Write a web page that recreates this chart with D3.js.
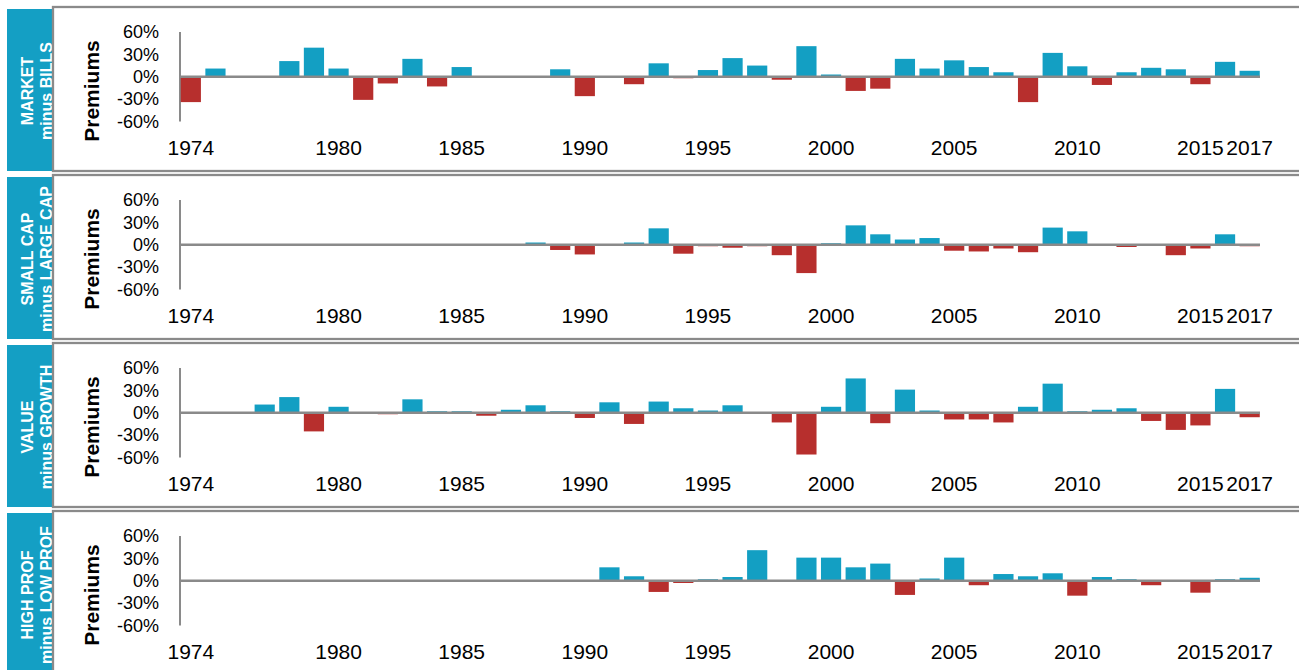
<!DOCTYPE html>
<html><head><meta charset="utf-8">
<script src="https://cdn.jsdelivr.net/npm/d3@7"></script>
<style>
html,body{margin:0;padding:0;background:#fff;overflow:hidden}
svg{display:block;font-family:"Liberation Sans",Arial,sans-serif}
</style></head>
<body><svg id="c" width="1299" height="670"></svg>
<script>
const years = d3.range(1974, 2018);
const xTickYears = [1974, 1980, 1985, 1990, 1995, 2000, 2005, 2010, 2015, 2017];
const yTicks = [60, 30, 0, -30, -60];
const panelLine1 = ["MARKET", "SMALL CAP", "VALUE", "HIGH PROF"];
const panelLine2 = ["minus BILLS", "minus LARGE CAP", "minus GROWTH", "minus LOW PROF"];
const yLabel = "Premiums";

const market = [-34,11,null,-1,21,39,11,-31,-9,24,-13,13,null,null,-1,10,-26,1,-10,18,-2,9,25,15,-4,41,3,-19,-16,24,11,22,13,6,-34,32,14,-11,6,12,10,-10,20,8];
const smallCap = [null,null,null,null,null,null,null,null,null,null,null,null,null,null,3,-7,-13,null,3,22,-12,-2,-4,-2,-14,-38,2,26,14,7,9,-8,-9,-5,-10,23,18,null,-3,null,-14,-5,14,-2];
const value = [null,null,null,11,21,-25,8,null,-2,18,2,2,-4,4,10,2,-7,14,-15,15,6,3,10,null,-13,-56,8,46,-14,31,3,-9,-9,-13,8,39,2,4,6,-11,-23,-17,32,-6];
const prof = [null,null,null,null,null,null,null,null,null,null,null,null,null,null,null,null,null,18,6,-15,-3,2,5,41,null,31,31,18,23,-19,3,31,-6,9,6,10,-20,5,2,-6,null,-16,2,4];
const seriesList = [market, smallCap, value, prof];

const svg = d3.select("#c");
const blue = "#139fc3", red = "#b72f2d", gray = "#8a8a8a", labBlue = "#149fc4";
const panelTops = [7, 175, 343, 511];
const panelH = 164;

const x = d3.scaleBand().domain(years).range([179.5, 1261]).paddingInner(0.18).paddingOuter(0.05);

seriesList.forEach((vals, i) => {
  const top = panelTops[i];
  const g = svg.append("g");
  // label box
  g.append("rect").attr("x", 7).attr("y", top + 2).attr("width", 45).attr("height", panelH - 2).attr("fill", labBlue);
  const cy = top + 84;
  g.append("text").attr("transform", `translate(33,${cy}) rotate(-90)`).attr("text-anchor", "middle")
    .attr("fill", "#fff").attr("font-weight", "bold").attr("font-size", 16).text(panelLine1[i]);
  g.append("text").attr("transform", `translate(52,${cy}) rotate(-90)`).attr("text-anchor", "middle")
    .attr("fill", "#fff").attr("font-weight", "bold").attr("font-size", 16).text(panelLine2[i]);
  // frame
  g.append("rect").attr("x", 53).attr("y", top).attr("width", 1270).attr("height", panelH)
    .attr("fill", "#fff").attr("stroke", gray).attr("stroke-width", 2.3);

  const y = d3.scaleLinear().domain([-60, 60]).range([top + 114.5, top + 25]);

  // y label
  g.append("text").attr("transform", `translate(99,${top + 84}) rotate(-90)`).attr("text-anchor", "middle")
    .attr("font-weight", "bold").attr("font-size", 21).attr("fill", "#000").text(yLabel);

  // y axis
  const yAxis = d3.axisLeft(y).tickValues(yTicks).tickSize(0).tickPadding(0).tickFormat(d => d + "%");
  const ya = g.append("g").attr("transform", "translate(159,0)").call(yAxis);
  ya.select(".domain").remove();
  ya.selectAll("text").attr("font-size", 18).attr("fill", "#000").attr("font-family", "Liberation Sans, Arial, sans-serif");
  g.append("line").attr("x1", 180).attr("x2", 180).attr("y1", y(60)).attr("y2", y(-60))
    .attr("stroke", gray).attr("stroke-width", 2);

  // bars
  const data = years.map((yr, k) => ({yr, v: vals[k]})).filter(d => d.v !== null);
  g.selectAll("rect.bar").data(data).enter().append("rect").attr("class", "bar")
    .attr("x", d => x(d.yr)).attr("width", x.bandwidth())
    .attr("y", d => y(Math.max(0, d.v))).attr("height", d => Math.abs(y(d.v) - y(0)))
    .attr("fill", d => d.v >= 0 ? blue : red);

  // zero line
  g.append("line").attr("x1", 180).attr("x2", 1260).attr("y1", y(0)).attr("y2", y(0))
    .attr("stroke", gray).attr("stroke-width", 2.3);

  // x axis labels
  const xAxis = d3.axisBottom(x).tickValues(xTickYears).tickSize(0).tickPadding(0);
  const xa = g.append("g").attr("transform", `translate(0,${top + 133})`).call(xAxis);
  xa.select(".domain").remove();
  xa.selectAll("text").attr("font-size", 21).attr("fill", "#000").attr("font-family", "Liberation Sans, Arial, sans-serif");
});
</script></body></html>
